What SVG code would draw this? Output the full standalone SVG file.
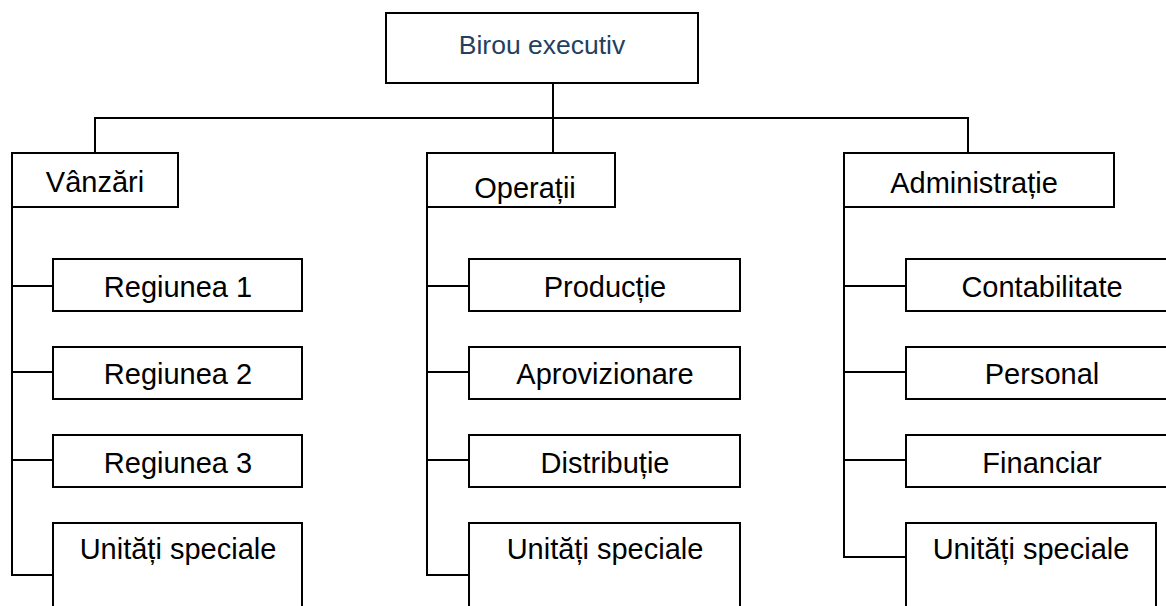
<svg xmlns="http://www.w3.org/2000/svg" width="1166" height="606" viewBox="0 0 1166 606">
<style>
.box{fill:#fff;stroke:#000;stroke-width:2}
.ln{fill:none;stroke:#000;stroke-width:2}
.t{font-family:"Liberation Sans",Arial,sans-serif;font-size:29px;fill:#000;text-anchor:middle}
.top{font-size:26.5px;fill:#243F60}
</style>
<rect width="1166" height="606" fill="#fff"/>
<g id="connectors">
<path class="ln" d="M553 83V153M95 153V118H968V153"/>
<path class="ln" d="M12 207V575H53M12 286H53M12 372H53M12 460H53"/>
<path class="ln" d="M427 207V575H469M427 286H469M427 372H469M427 460H469"/>
<path class="ln" d="M844 207V557H906M844 286H906M844 372H906M844 460H906"/>
</g>
<g id="birou"><rect class="box" x="386" y="13" width="312" height="70"/><text class="t top" x="542" y="54">Birou executiv</text></g>
<g id="vanzari"><rect class="box" x="12" y="153" width="166" height="54"/><text class="t" x="95" y="192">Vânzări</text></g>
<g id="operatii"><rect class="box" x="427" y="153" width="188" height="54"/><text class="t" x="525" y="198">Operații</text></g>
<g id="administratie"><rect class="box" x="844" y="153" width="270" height="54"/><text class="t" x="974" y="193">Administrație</text></g>
<g id="regiunea1"><rect class="box" x="53" y="259" width="249" height="52"/><text class="t" x="178" y="297">Regiunea 1</text></g>
<g id="regiunea2"><rect class="box" x="53" y="347" width="249" height="52"/><text class="t" x="178" y="384">Regiunea 2</text></g>
<g id="regiunea3"><rect class="box" x="53" y="435" width="249" height="52"/><text class="t" x="178" y="473">Regiunea 3</text></g>
<g id="unitati1"><rect class="box" x="53" y="523" width="249" height="100"/><text class="t" x="178" y="559">Unități speciale</text></g>
<g id="productie"><rect class="box" x="469" y="259" width="271" height="52"/><text class="t" x="605" y="297">Producție</text></g>
<g id="aprovizionare"><rect class="box" x="469" y="347" width="271" height="52"/><text class="t" x="605" y="384">Aprovizionare</text></g>
<g id="distributie"><rect class="box" x="469" y="435" width="271" height="52"/><text class="t" x="605" y="473">Distribuție</text></g>
<g id="unitati2"><rect class="box" x="469" y="523" width="271" height="100"/><text class="t" x="605" y="559">Unități speciale</text></g>
<g id="contabilitate"><rect class="box" x="906" y="259" width="271" height="52"/><text class="t" x="1042" y="297">Contabilitate</text></g>
<g id="personal"><rect class="box" x="906" y="347" width="271" height="52"/><text class="t" x="1042" y="384">Personal</text></g>
<g id="financiar"><rect class="box" x="906" y="435" width="271" height="52"/><text class="t" x="1042" y="473">Financiar</text></g>
<g id="unitati3"><rect class="box" x="906" y="523" width="250" height="100"/><text class="t" x="1031" y="559">Unități speciale</text></g>
</svg>
